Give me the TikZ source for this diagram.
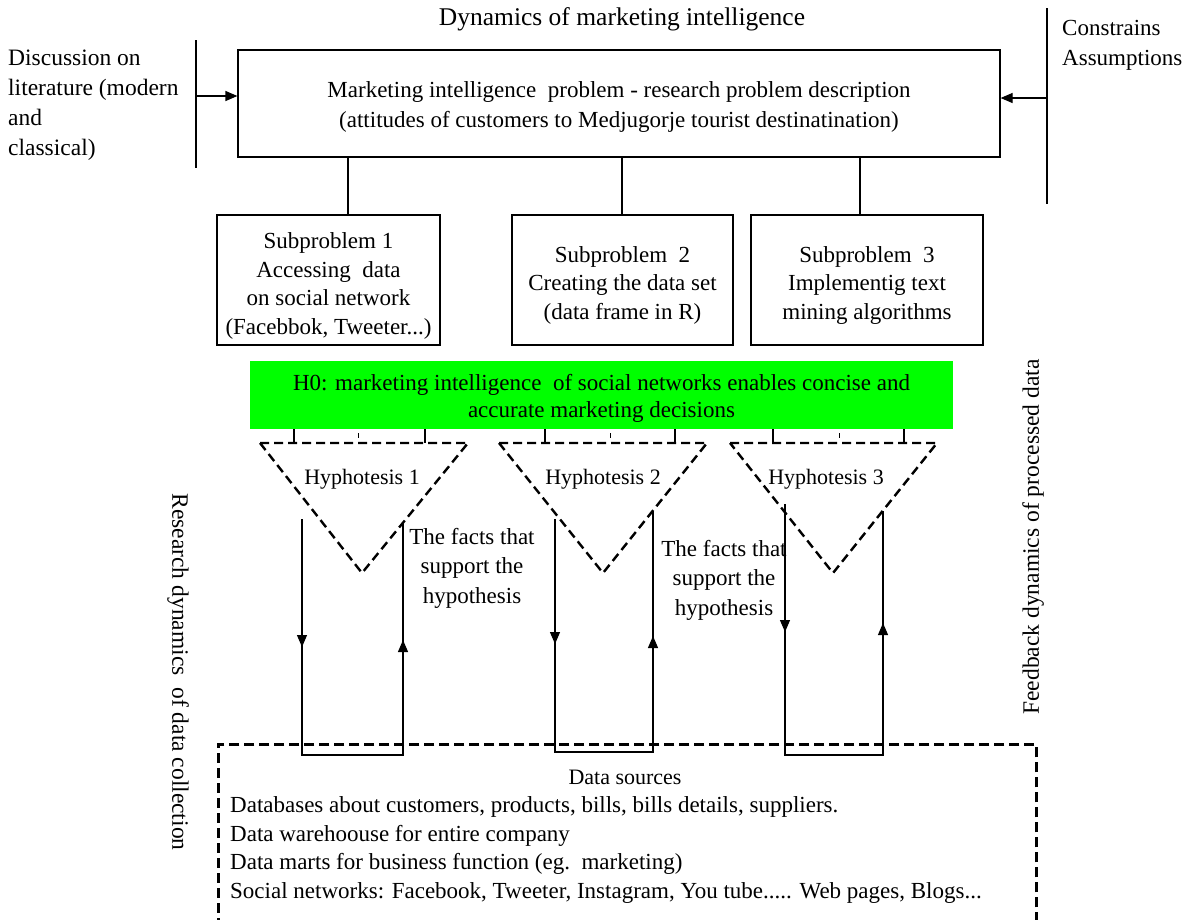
\documentclass[tikz,border=0pt]{standalone}
\usepackage{fontspec}
\setmainfont{Liberation Serif}
\usetikzlibrary{arrows.meta,calc}
\definecolor{hgreen}{RGB}{0,255,0}
\begin{document}
\begin{tikzpicture}[x=1pt,y=-1pt,
  txt/.style={font=\fontsize{23}{29.5}\selectfont, inner sep=0pt},
  box/.style={draw, line width=1.2pt, inner sep=0pt},
  ln/.style={line width=1.2pt},
  arr/.style={line width=1.2pt, -{Triangle[length=12pt,width=10pt]}},
  tri/.style={line width=2.4pt, dash pattern=on 9pt off 5pt},
  dbox/.style={draw, line width=2.6pt, dash pattern=on 10pt off 5pt},
]
\clip (0,0) rectangle (1188,919);

% title and side texts
\node[txt, font=\fontsize{25.5}{30}\selectfont] (title) at (622,19) {Dynamics of marketing intelligence};
\node[txt, align=left, anchor=west, font=\fontsize{23.5}{30}\selectfont] (disc) at (8,105) {Discussion on\\literature (modern\\and\\classical)};
\node[txt, align=left, anchor=west, font=\fontsize{23}{30}\selectfont] (cons) at (1062,45) {Constrains\\Assumptions};

% main problem box
\node[box, minimum width=762pt, minimum height=107pt] (main) at (619,103.5) {};
\node[txt, align=center, font=\fontsize{23}{30}\selectfont] (maint) at ($(main.center)+(0,3)$)
  {Marketing intelligence\ \ problem - research problem description\\(attitudes of customers to Medjugorje tourist destinatination)};

% side input lines
\coordinate (lt) at (196,40);
\coordinate (lb) at (196,168);
\coordinate (la) at (196,96);
\draw[ln] (lt) -- (lb);
\draw[arr] (la) -- (la -| main.west);
\coordinate (rt) at (1047,8);
\coordinate (rb) at (1047,204);
\coordinate (ra) at (1047,98);
\draw[ln] (rt) -- (rb);
\draw[arr] (ra) -- (ra -| main.east);

% subproblems
\node[box, minimum width=223pt, minimum height=130pt] (s1) at (328.5,280) {};
\node[box, minimum width=221pt, minimum height=130pt] (s2) at (622.5,280) {};
\node[box, minimum width=232pt, minimum height=130pt] (s3) at (867,280) {};
\node[txt, align=center, font=\fontsize{23}{28.5}\selectfont] (s1t) at ($(s1.center)+(0,6)$)
  {Subproblem 1\\Accessing\ \ data\\on social network\\(Facebbok, Tweeter...)};
\node[txt, align=center, font=\fontsize{23}{28.5}\selectfont] (s2t) at ($(s2.center)+(0,5)$)
  {Subproblem\ \ 2\\Creating the data set\\(data frame in R)};
\node[txt, align=center, font=\fontsize{23}{28.5}\selectfont] (s3t) at ($(s3.center)+(0,5)$)
  {Subproblem\ \ 3\\Implementig text\\mining algorithms};
\coordinate (c1) at (348,0);
\coordinate (c2) at (622,0);
\coordinate (c3) at (860,0);
\draw[ln] (main.south -| c1) -- (s1.north -| c1);
\draw[ln] (main.south -| c2) -- (s2.north -| c2);
\draw[ln] (main.south -| c3) -- (s3.north -| c3);

% H0 box
\node[fill=hgreen, minimum width=703pt, minimum height=68pt, inner sep=0pt] (h0) at (601.5,395) {};
\node[txt, align=center, font=\fontsize{23}{27}\selectfont] (h0t) at ($(h0.center)+(0,3)$)
  {H0: marketing intelligence\ \ of social networks enables concise and\\accurate marketing decisions};

% triangles
\coordinate (t1l) at (260,443); \coordinate (t1r) at (468,443); \coordinate (t1b) at (362,573);
\coordinate (t2l) at (499,443); \coordinate (t2r) at (707,443); \coordinate (t2b) at (603,573);
\coordinate (t3l) at (730,443); \coordinate (t3r) at (937,443); \coordinate (t3b) at (833,573);
\draw[tri] (t1l) -- (t1r) -- (t1b) -- cycle;
\draw[tri] (t2l) -- (t2r) -- (t2b) -- cycle;
\draw[tri] (t3l) -- (t3r) -- (t3b) -- cycle;

% ticks between H0 and triangles
\foreach \x/\t in {294/1,425/1,545/2,675/2,773/3,904/3}{
  \coordinate (tk) at (\x,0);
  \draw[ln] (h0.south -| tk) -- (t\t l -| tk);
}
\foreach \x in {358,610,839}{
  \coordinate (sk) at (\x,433);
  \coordinate (ske) at (\x,438);
  \draw[line width=1pt] (sk) -- (ske);
}

\node[txt, font=\fontsize{22}{28}\selectfont] (hy1) at (362,479) {Hyphotesis 1};
\node[txt, font=\fontsize{22}{28}\selectfont] (hy2) at (603,479) {Hyphotesis 2};
\node[txt, font=\fontsize{22}{28}\selectfont] (hy3) at (826,479) {Hyphotesis 3};

\node[txt, align=center] (f1) at (472,568) {The facts that\\support the\\hypothesis};
\node[txt, align=center] (f2) at (724,580) {The facts that\\support the\\hypothesis};

% arrow loops
% pair 1
\coordinate (p1a) at (302,519); \coordinate (p1b) at (302,755);
\coordinate (p1c) at (403,755); \coordinate (p1d) at (403,523);
\coordinate (p1da) at (302,647); \coordinate (p1ua) at (403,640);
\draw[ln] (p1a) -- (p1b) -- (p1c) -- (p1d);
\draw[arr] (p1a) -- (p1da);
\draw[arr] (p1c) -- (p1ua);
% pair 2
\coordinate (p2a) at (555,519); \coordinate (p2b) at (555,752);
\coordinate (p2c) at (653,752); \coordinate (p2d) at (653,511);
\coordinate (p2da) at (555,644); \coordinate (p2ua) at (653,636);
\draw[ln] (p2a) -- (p2b) -- (p2c) -- (p2d);
\draw[arr] (p2a) -- (p2da);
\draw[arr] (p2c) -- (p2ua);
% pair 3
\coordinate (p3a) at (785,504); \coordinate (p3b) at (785,755);
\coordinate (p3c) at (883,755); \coordinate (p3d) at (883,511);
\coordinate (p3da) at (785,632); \coordinate (p3ua) at (883,623);
\draw[ln] (p3a) -- (p3b) -- (p3c) -- (p3d);
\draw[arr] (p3a) -- (p3da);
\draw[arr] (p3c) -- (p3ua);

% rotated labels
\node[txt, rotate=-90, font=\fontsize{23.5}{28}\selectfont] (rd) at (178,672) {Research dynamics\ \ of data collection};
\node[txt, rotate=90, font=\fontsize{23.5}{28}\selectfont] (fd) at (1033,537) {Feedback dynamics of processed data};

% data sources
\node[dbox, anchor=north west, minimum width=818pt, minimum height=230pt] (data) at (217,743) {};
\node[txt, font=\fontsize{22}{28}\selectfont] (dst) at (625,777) {Data sources};
\node[txt, align=left, anchor=west, font=\fontsize{23}{28.5}\selectfont] (dsl) at (230,850)
  {Databases about customers, products, bills, bills details, suppliers.\\
   Data warehoouse for entire company\\
   Data marts for business function (eg.\ \ marketing)\\
   Social networks: Facebook, Tweeter, Instagram, You tube..... Web pages, Blogs...};
\end{tikzpicture}
\end{document}
